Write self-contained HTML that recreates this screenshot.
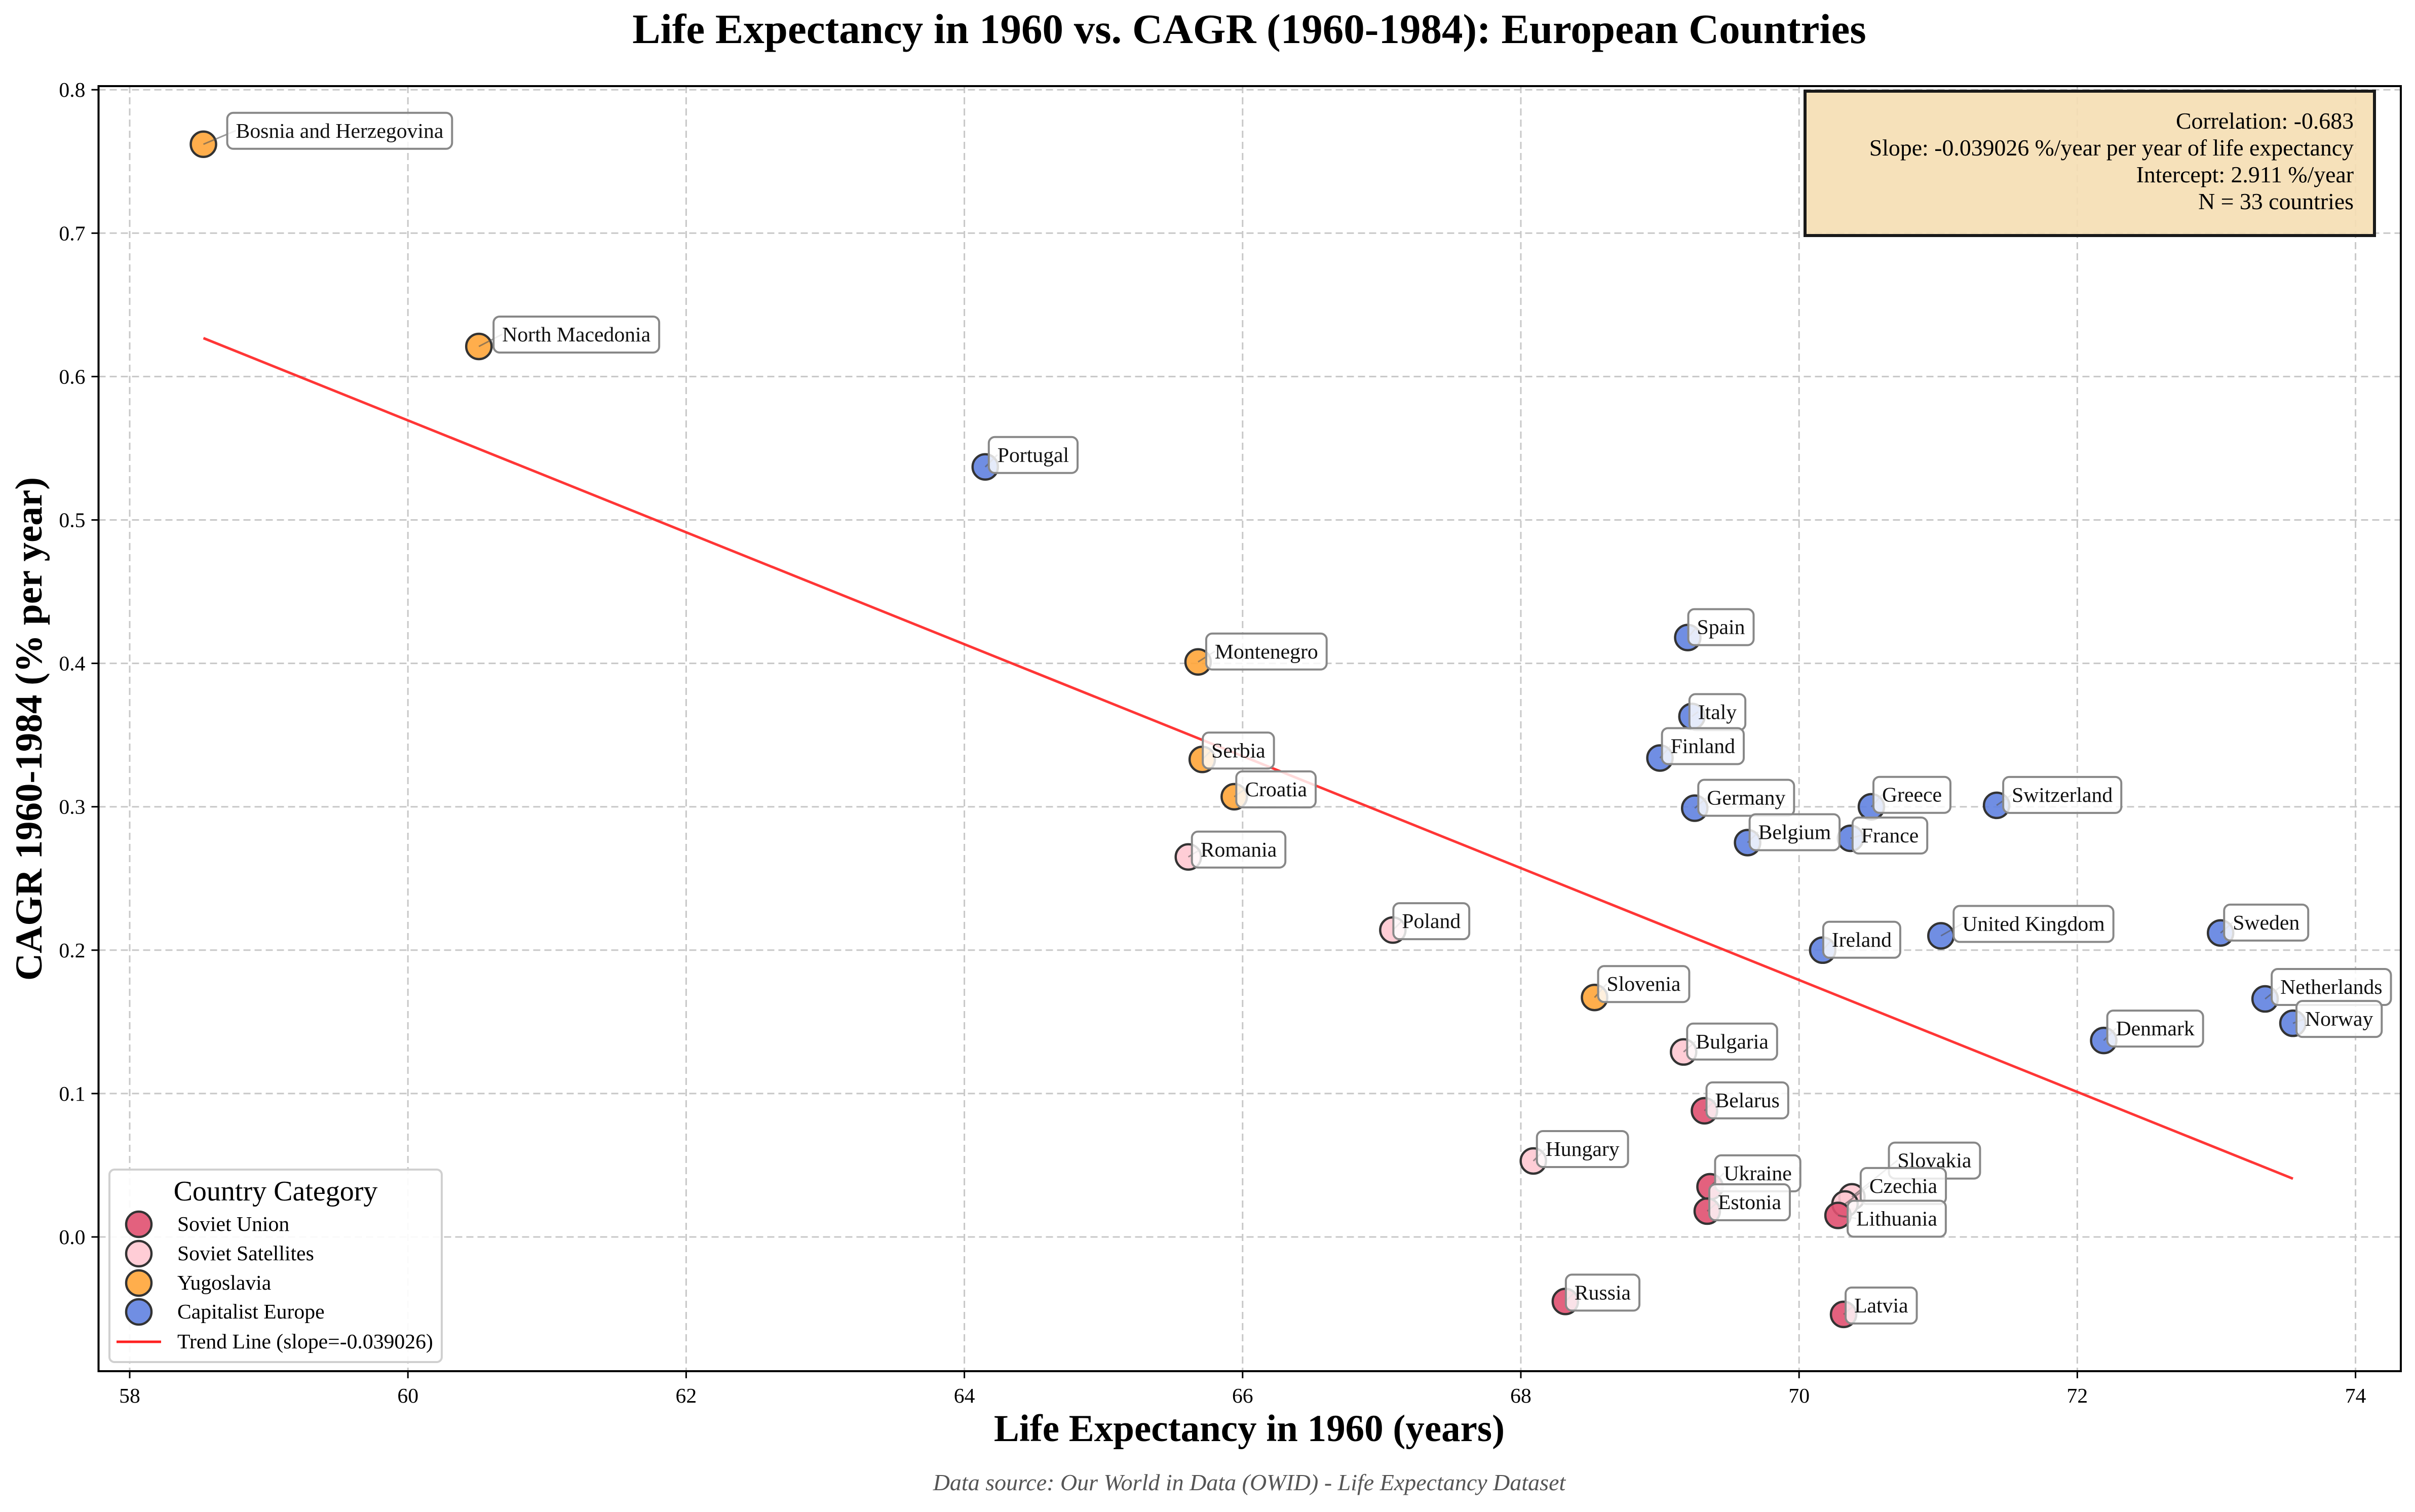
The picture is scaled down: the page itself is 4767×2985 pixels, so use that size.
<!DOCTYPE html>
<html><head><meta charset="utf-8"><style>
html,body{margin:0;padding:0;background:#fff;}
svg{display:block;font-family:"Liberation Serif","DejaVu Serif",serif;}
</style></head><body>
<svg id="chart" xmlns="http://www.w3.org/2000/svg" width="4767" height="2985" viewBox="0 0 4767 2985">
<rect x="0" y="0" width="4767" height="2985" fill="#fff"/>
<text x="2466" y="85" text-anchor="middle" font-size="83" font-weight="bold" fill="#000">Life Expectancy in 1960 vs. CAGR (1960-1984): European Countries</text>
<g id="grid"></g>
<g id="trend"></g>
<g id="points"></g>
<g id="labels"></g>
<rect x="194.5" y="170" width="4544.5" height="2537" fill="none" stroke="#000" stroke-width="4"/>
<g id="ticks"></g>
<text x="2466" y="2845" text-anchor="middle" font-size="75" font-weight="bold">Life Expectancy in 1960 (years)</text>
<text transform="translate(82,1439) rotate(-90)" text-anchor="middle" font-size="75" font-weight="bold">CAGR 1960-1984 (% per year)</text>
<text x="2466" y="2942" text-anchor="middle" font-size="46" font-style="italic" fill="#555">Data source: Our World in Data (OWID) - Life Expectancy Dataset</text>
<g>
<rect x="3563" y="180" width="1124" height="285" fill="#f5deb3" fill-opacity="0.9" stroke="#1a1a1a" stroke-width="6"/>
<text x="4646" y="254" text-anchor="end" font-size="45.8">Correlation: -0.683</text>
<text x="4646" y="307" text-anchor="end" font-size="45.8">Slope: -0.039026 %/year per year of life expectancy</text>
<text x="4646" y="360" text-anchor="end" font-size="45.8">Intercept: 2.911 %/year</text>
<text x="4646" y="413" text-anchor="end" font-size="45.8">N = 33 countries</text>
</g>
<g id="legend">
<rect x="216" y="2309" width="656" height="380" rx="10" fill="#fff" fill-opacity="0.9" stroke="#d0d0d0" stroke-width="4"/>
<text x="544" y="2370" text-anchor="middle" font-size="56">Country Category</text>
</g>
</svg>
<script>
const countries=["Bosnia and Herzegovina","North Macedonia","Portugal","Montenegro","Serbia","Croatia","Romania","Poland","Slovenia","Bulgaria","Belarus","Hungary","Ukraine","Estonia","Russia","Spain","Italy","Finland","Germany","Belgium","Greece","France","Switzerland","Ireland","United Kingdom","Sweden","Netherlands","Norway","Denmark","Slovakia","Czechia","Lithuania","Latvia"];
const lifeExp=[58.53,60.51,64.15,65.68,65.71,65.94,65.61,67.08,68.53,69.17,69.32,68.09,69.36,69.34,68.32,69.20,69.23,69.00,69.25,69.63,70.52,70.37,71.42,70.17,71.02,73.03,73.35,73.55,72.19,70.38,70.33,70.28,70.32];
const cagr=[0.762,0.621,0.537,0.401,0.333,0.307,0.265,0.214,0.167,0.129,0.088,0.053,0.035,0.018,-0.045,0.418,0.363,0.334,0.299,0.275,0.300,0.278,0.301,0.200,0.210,0.212,0.166,0.149,0.137,0.028,0.023,0.015,-0.054];
const category=["Yugoslavia","Yugoslavia","Capitalist Europe","Yugoslavia","Yugoslavia","Yugoslavia","Soviet Satellites","Soviet Satellites","Yugoslavia","Soviet Satellites","Soviet Union","Soviet Satellites","Soviet Union","Soviet Union","Soviet Union","Capitalist Europe","Capitalist Europe","Capitalist Europe","Capitalist Europe","Capitalist Europe","Capitalist Europe","Capitalist Europe","Capitalist Europe","Capitalist Europe","Capitalist Europe","Capitalist Europe","Capitalist Europe","Capitalist Europe","Capitalist Europe","Soviet Satellites","Soviet Satellites","Soviet Union","Soviet Union"];
const categories=["Soviet Union","Soviet Satellites","Yugoslavia","Capitalist Europe"];
const xTicks=[58,60,62,64,66,68,70,72,74];
const yTicks=[0.0,0.1,0.2,0.3,0.4,0.5,0.6,0.7,0.8];
const trendSlope=-0.039026;
const trendIntercept=2.911;
// label offsets (layout, in screen px relative to point)
const labelDx=[64,46,24,33,18,21,24,18,24,24,21,24,27,21,18,18,12,21,24,21,21,21,30,18,42,24,30,24,24,90,48,36,21];
const labelDy=[-27,-24,-24,-21,-18,-15,-15,-18,-27,-21,-21,-24,-27,-18,-18,-21,-9,-24,-21,-21,-24,-6,-21,-21,-24,-21,-24,-9,-24,-72,-36,6,-18];
const colors={"Soviet Union":"#e05070","Soviet Satellites":"#ffc8d2","Yugoslavia":"#ffa538","Capitalist Europe":"#6182e0"};

const NS="http://www.w3.org/2000/svg";
const X0=194.5,X1=4739,Y0=170,Y1=2707;
function sx(v){return 256+(v-58)*274.6;}
function sy(v){return 2442-v*2831;}
function mk(tag,attrs,parent){const e=document.createElementNS(NS,tag);for(const k in attrs)e.setAttribute(k,attrs[k]);parent.appendChild(e);return e;}
const grid=document.getElementById('grid'),ticks=document.getElementById('ticks');
xTicks.forEach(t=>{
  const g=mk('line',{x1:sx(t),x2:sx(t),y1:Y0,y2:Y1,stroke:'#c8c8c8','stroke-width':3,'stroke-dasharray':'14,8'},grid);
  
  
  const tk=mk('line',{x1:sx(t),x2:sx(t),y1:Y1,y2:Y1+14,stroke:'#000','stroke-width':3},ticks);
  
  
  const tl=mk('text',{x:sx(t),y:2769,'text-anchor':'middle','font-size':41.7},ticks);
  tl.textContent=String(t);
  
  
});
yTicks.forEach(t=>{
  const g=mk('line',{x1:X0,x2:X1,y1:sy(t),y2:sy(t),stroke:'#c8c8c8','stroke-width':3,'stroke-dasharray':'14,8'},grid);
  
  
  const tk=mk('line',{x1:X0-14,x2:X0,y1:sy(t),y2:sy(t),stroke:'#000','stroke-width':3},ticks);
  
  
  const tl=mk('text',{x:X0-26,y:sy(t)+14,'text-anchor':'end','font-size':41.7},ticks);
  tl.textContent=t.toFixed(1);
  
  
});
const xmin=Math.min(...lifeExp),xmax=Math.max(...lifeExp);
const tr=mk('line',{x1:sx(xmin),y1:sy(trendIntercept+trendSlope*xmin),x2:sx(xmax),y2:sy(trendIntercept+trendSlope*xmax),stroke:'#ff2020','stroke-width':5,'stroke-opacity':0.9},document.getElementById('trend'));


const pts=document.getElementById('points'),labs=document.getElementById('labels');
countries.forEach((c,i)=>{
  const px=sx(lifeExp[i]),py=sy(cagr[i]);
  const p=mk('circle',{cx:px,cy:py,r:25,fill:colors[category[i]],'fill-opacity':0.9,stroke:'#333','stroke-width':4.5},pts);
  
  
});
countries.forEach((c,i)=>{
  const px=sx(lifeExp[i]),py=sy(cagr[i]);
  const tx=px+labelDx[i],ty=py+labelDy[i];
  const g=mk('g',{},labs);
  
  
  mk('line',{x1:tx,y1:ty,x2:px,y2:py,stroke:'#555','stroke-width':3,'stroke-opacity':0.6},g);
  const rect=mk('rect',{x:0,y:0,width:0,height:0,rx:12,fill:'#fff','fill-opacity':0.82,stroke:'#888','stroke-width':4},g);
  const t=mk('text',{x:tx,y:ty+14,'font-size':41.7,fill:'#111'},g);
  t.textContent=c;
  const w=t.getComputedTextLength();
  rect.setAttribute('x',tx-17);rect.setAttribute('y',ty-35);
  rect.setAttribute('width',w+34);rect.setAttribute('height',71);
});
const leg=document.getElementById('legend');
const legY=[2417,2475,2533,2590];
categories.forEach((c,i)=>{
  const g=mk('g',{},leg);
  
  
  mk('ellipse',{cx:274,cy:legY[i],rx:25,ry:25,fill:colors[c],'fill-opacity':0.9,stroke:'#333','stroke-width':4.5},g);
  const t=mk('text',{x:350,y:legY[i]+13,'font-size':41.7},g);
  t.textContent=c;
});
const gt=mk('g',{},leg);


mk('line',{x1:230,x2:318,y1:2649,y2:2649,stroke:'#ff2020','stroke-width':5},gt);
const tt=mk('text',{x:350,y:2662,'font-size':41.7},gt);
tt.textContent='Trend Line (slope=-0.039026)';
</script>
</body></html>
